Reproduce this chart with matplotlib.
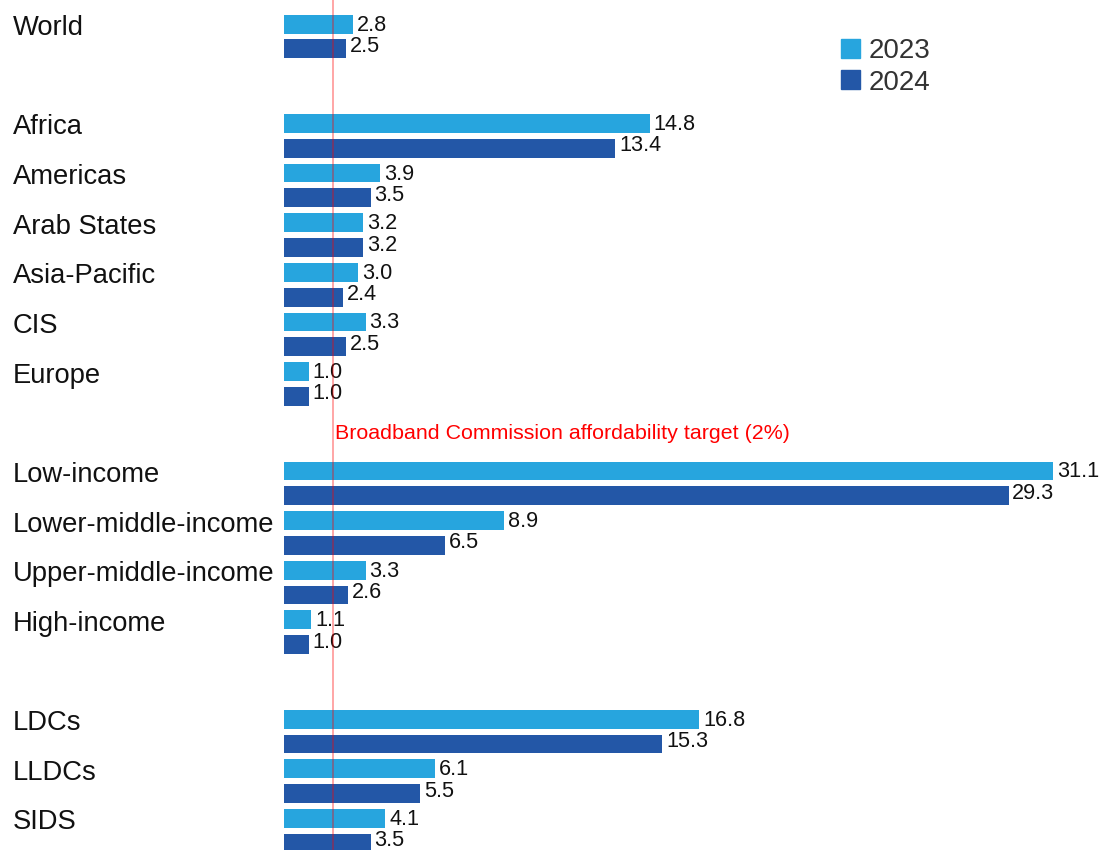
import matplotlib
matplotlib.use("Agg")
import matplotlib.pyplot as plt
import matplotlib.transforms as mtransforms
from matplotlib.patches import Patch

plt.rcParams['font.family'] = ['Liberation Sans', 'DejaVu Sans']

# Mobile broadband basket cost, % of GNI per capita
categories = ['World', 'Africa', 'Americas', 'Arab States', 'Asia-Pacific', 'CIS', 'Europe',
              'Low-income', 'Lower-middle-income', 'Upper-middle-income', 'High-income',
              'LDCs', 'LLDCs', 'SIDS']
values_2023 = [2.8, 14.8, 3.9, 3.2, 3.0, 3.3, 1.0, 31.1, 8.9, 3.3, 1.1, 16.8, 6.1, 4.1]
values_2024 = [2.5, 13.4, 3.5, 3.2, 2.4, 2.5, 1.0, 29.3, 6.5, 2.6, 1.0, 15.3, 5.5, 3.5]
# row slot for each category (blank slots separate the groups)
slots = [0, 2, 3, 4, 5, 6, 7, 9, 10, 11, 12, 14, 15, 16]
target = 2.0

c2023 = '#27a5de'
c2024 = '#2357a7'

fig = plt.figure(figsize=(11.01, 8.5), dpi=100)
ax = fig.add_axes([0, 0, 1, 1])

px_per_unit = 24.73
row_px = 49.65
ax.set_xlim(-284 / px_per_unit, (1101 - 284) / px_per_unit)
ax.set_ylim((850 - 36.5) / row_px, -36.5 / row_px)
ax.axis('off')

bar_h = 0.38
off = 0.25
y23 = [s - off for s in slots]
y24 = [s + off for s in slots]
ax.barh(y23, values_2023, height=bar_h, color=c2023, label='2023')
ax.barh(y24, values_2024, height=bar_h, color=c2024, label='2024')

for y, v in zip(y23, values_2023):
    ax.text(v + 0.15, y + 0.02, f'{v:.1f}', va='center', ha='left', fontsize=15.6, color='#111111')
for y, v in zip(y24, values_2024):
    ax.text(v + 0.15, y - 0.05, f'{v:.1f}', va='center', ha='left', fontsize=15.6, color='#111111')

# category names at the left margin
trans = mtransforms.blended_transform_factory(fig.transFigure, ax.transData)
for name, y in zip(categories, y23):
    ax.text(13 / 1101, y + 0.08, name, transform=trans, va='center', ha='left',
            fontsize=19.7, color='#111111')

# affordability target line
ax.axvline(target, color='#ff0000', alpha=0.35, lw=1.4, zorder=5)
ax.text(target + 0.08, 8, 'Broadband Commission affordability target (2%)',
        color='#ff0000', fontsize=15.4, va='center', ha='left')

handles = [Patch(color=c2023, label='2023'), Patch(color=c2024, label='2024')]
leg = fig.legend(handles=handles, loc='upper left', bbox_to_anchor=(830 / 1101, 1 - 27 / 850),
                 frameon=False, fontsize=20, handlelength=0.68, handleheight=0.68,
                 handletextpad=0.3, labelspacing=0.2, borderaxespad=0)
for t in leg.get_texts():
    t.set_color('#333333')

fig.savefig('out.png', dpi=100)
